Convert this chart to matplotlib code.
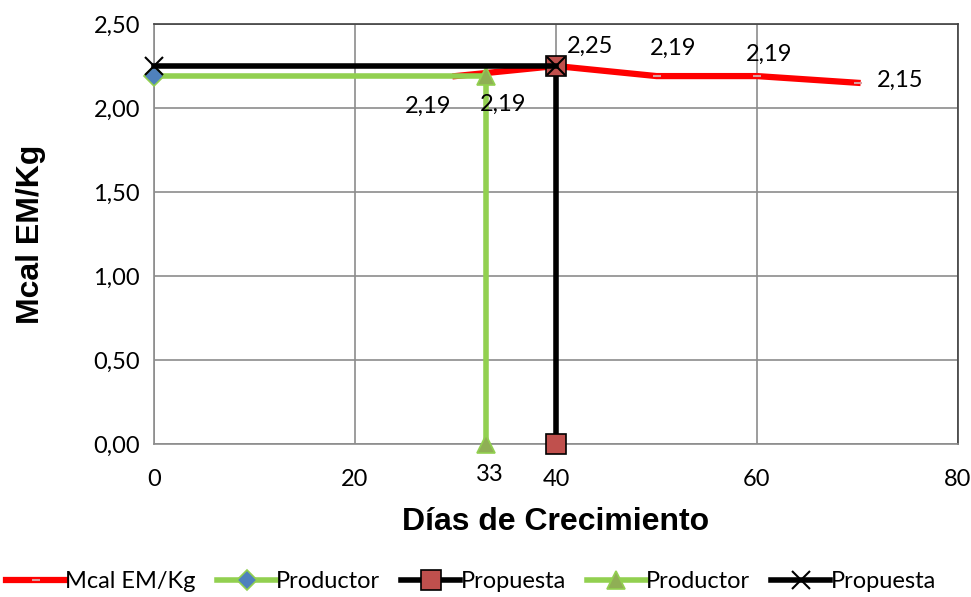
import numpy as np
import matplotlib.pyplot as plt

# data
dias = [30, 40, 50, 60, 70]
mcal = [2.19, 2.25, 2.19, 2.19, 2.15]

prod_h_x = [0, 33]
prod_h_y = [2.19, 2.19]
prop_v_x = [40, 40]
prop_v_y = [0.0, 2.25]
prod_v_x = [33, 33]
prod_v_y = [0.0, 2.19]
prop_h_x = [0, 40]
prop_h_y = [2.25, 2.25]

plt.rcParams["font.family"] = ["Lato", "DejaVu Sans"]
FS = 17


def fmt(v):
    return f"{v:.2f}".replace(".", ",")


fig = plt.figure(figsize=(9.71, 5.97), dpi=100)
ax = fig.add_axes([154 / 971, 1 - 444 / 597, (958 - 154) / 971, (444 - 24) / 597])

l1, = ax.plot(dias, mcal, color="#FF0000", lw=4.5, marker="_", ms=6,
              mec="#D9A0A0", mew=1.5, zorder=2, clip_on=False, label="Mcal EM/Kg")
l2, = ax.plot(prod_h_x, prod_h_y, color="#92D050", lw=4, marker="D", ms=10,
              mfc="#4F81BD", mec="#92D050", mew=1.2, markevery=[0],
              zorder=3, clip_on=False, label="Productor")
l3, = ax.plot(prop_v_x, prop_v_y, color="black", lw=4, marker="s", ms=15,
              mfc="#C0504D", mec="black", mew=1.2, zorder=4, clip_on=False,
              label="Propuesta")
l4, = ax.plot(prod_v_x, prod_v_y, color="#92D050", lw=4, marker="^", ms=13,
              mfc="#8FAF55", mec="#92D050", mew=1.2, zorder=3, clip_on=False,
              label="Productor")
l5, = ax.plot(prop_h_x, prop_h_y, color="black", lw=4, marker="x", ms=13,
              mec="black", mew=1.5, zorder=5, clip_on=False, label="Propuesta")

# data labels
lab_kw = dict(fontsize=FS, textcoords="offset points")
ax.annotate(fmt(mcal[0]), (dias[0], mcal[0]), xytext=(-3, -22), ha="right", va="center", **lab_kw)
ax.annotate(fmt(mcal[1]), (dias[1], mcal[1]), xytext=(8, 14), ha="left", va="center", **lab_kw)
ax.annotate(fmt(mcal[2]), (dias[2], mcal[2]), xytext=(-5, 20), ha="left", va="center", **lab_kw)
ax.annotate(fmt(mcal[3]), (dias[3], mcal[3]), xytext=(-8, 16), ha="left", va="center", **lab_kw)
ax.annotate(fmt(mcal[4]), (dias[4], mcal[4]), xytext=(14, 2), ha="left", va="center", **lab_kw)
ax.annotate(fmt(prod_v_y[1]), (prod_v_x[1], prod_v_y[1]), xytext=(-4, -20), ha="left", va="center", **lab_kw)
ax.annotate(str(prod_v_x[0]), (prod_v_x[0], 0), xytext=(3, -22), ha="center", va="center", **lab_kw)

ax.set_xlim(0, 80)
ax.set_ylim(0, 2.5)
ax.set_xticks(np.arange(0, 81, 20))
ax.set_yticks(np.arange(0, 2.51, 0.5))
ax.set_yticklabels([fmt(v) for v in np.arange(0, 2.51, 0.5)])
ax.tick_params(labelsize=FS, length=0)
ax.tick_params(axis="x", pad=18)
ax.tick_params(axis="y", pad=10)
ax.grid(color="#8C8C8C", lw=1.2)
ax.set_axisbelow(True)
for s in ax.spines.values():
    s.set_color("#404040")
    s.set_linewidth(1.2)
ax.spines["left"].set_color("#8C8C8C")
ax.spines["bottom"].set_color("#8C8C8C")

ax.set_xlabel("Días de Crecimiento", fontsize=23, fontweight="bold",
              family=["Liberation Sans", "DejaVu Sans"], labelpad=12)
ax.set_ylabel("Mcal EM/Kg", fontsize=23, fontweight="bold",
              family=["Liberation Sans", "DejaVu Sans"], labelpad=34)

fig.legend(handles=[l1, l2, l3, l4, l5], loc="center", ncol=5,
           bbox_to_anchor=(0.485, 1 - 582 / 597), frameon=False, fontsize=FS,
           handlelength=2.5, handletextpad=0.0, columnspacing=0.9)

fig.savefig("out.png", dpi=100)
